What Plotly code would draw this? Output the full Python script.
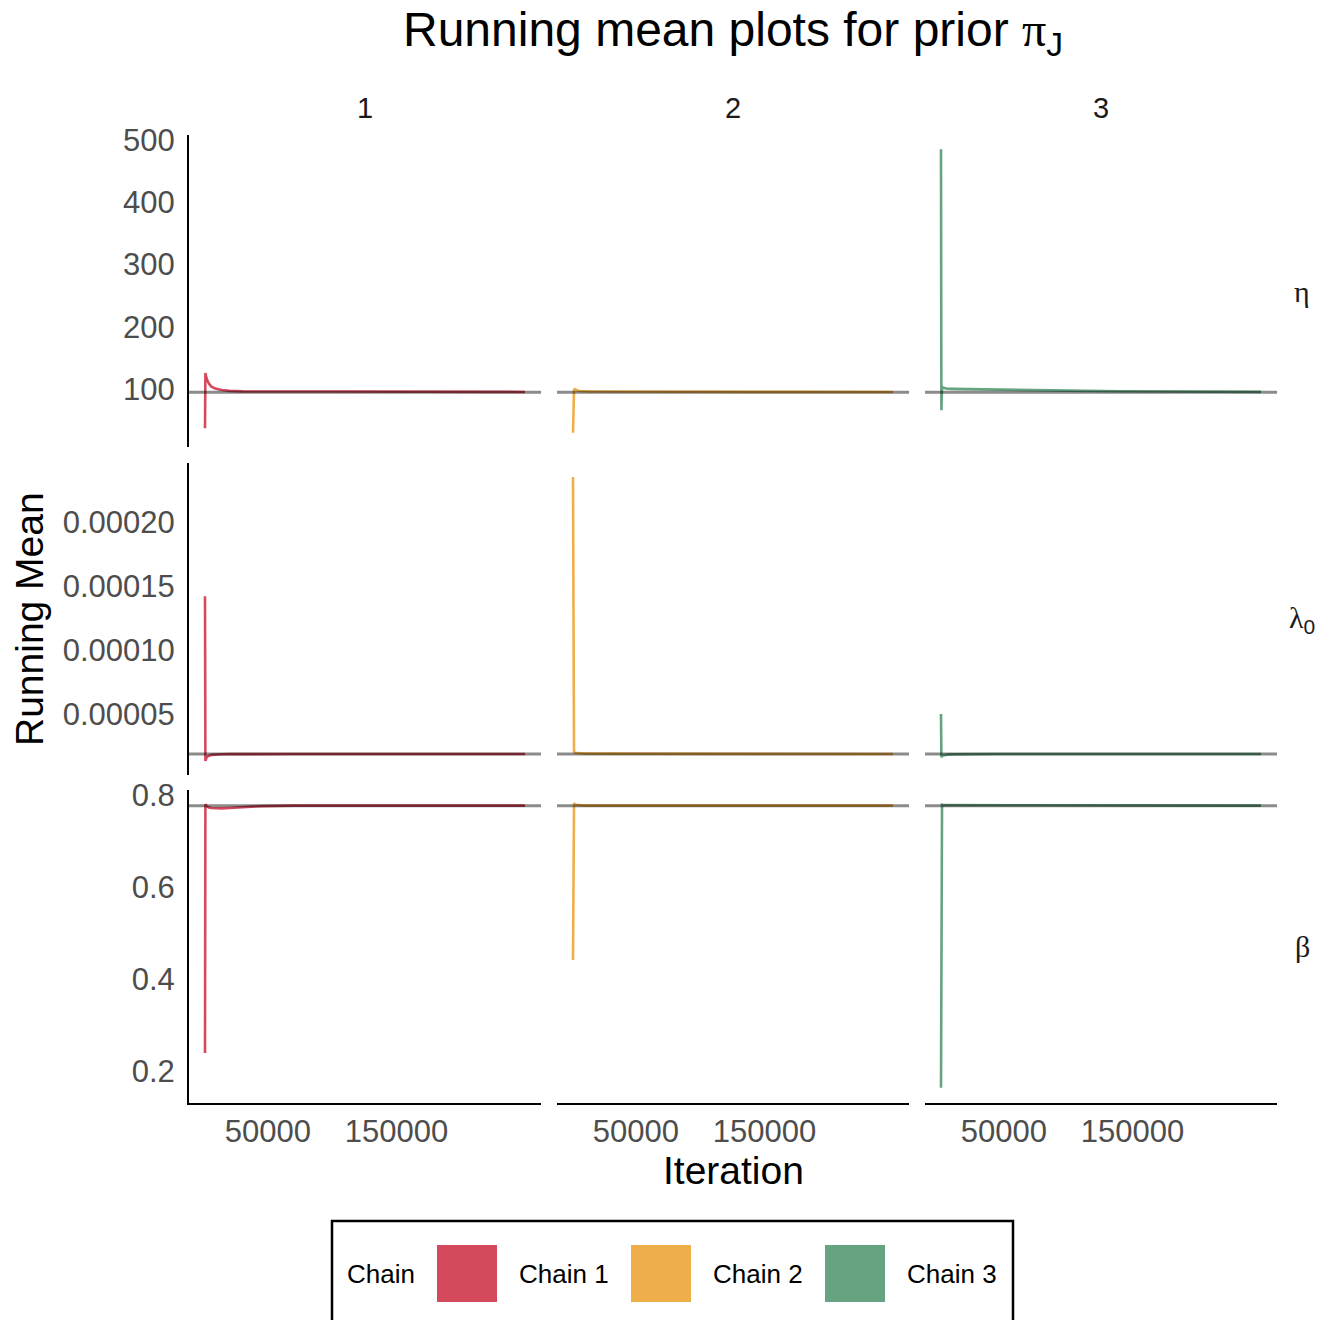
import plotly.graph_objects as go

# ---------------- data ----------------
CHAINS = ["Chain 1", "Chain 2", "Chain 3"]
COLORS = ["#D4495C", "#EEAE49", "#66A381"]
PARAMS = ["eta", "lambda0", "beta"]
ROW_LABELS = ["η", "λ<sub><span style='font-family:Liberation Sans'>0</span></sub>", "β"]
COL_LABELS = ["1", "2", "3"]

ITER = [1000, 1300, 1800, 2600, 4000, 6000, 9000, 14000, 20000, 30000,
        45000, 70000, 100000, 140000, 180000, 220000, 250000]

# eta running means
ETA_C1 = [37, 126, 121, 115, 109, 104, 101, 98.5, 97.2, 96.3, 95.8, 96.0, 96.1, 95.8, 95.6, 95.5, 95.4]
ETA_C2 = [30, 88, 99, 100, 98, 97, 96.5, 96.2, 96.0, 95.9, 95.8, 95.7, 95.6, 95.5, 95.5, 95.4, 95.4]
ETA_C3 = [485, 66, 104, 102, 101, 100.5, 100.3, 100.2, 100.0, 99.8, 99.5, 98.8, 97.6, 96.5, 96.0, 95.7, 95.5]
# lambda0 running means
LAM_C1 = [14.2e-5, 1.33e-5, 1.50e-5, 1.64e-5, 1.74e-5, 1.80e-5, 1.83e-5, 1.85e-5, 1.86e-5, 1.87e-5,
          1.87e-5, 1.87e-5, 1.87e-5, 1.87e-5, 1.87e-5, 1.87e-5, 1.87e-5]
LAM_C2 = [23.5e-5, 2.30e-5, 2.05e-5, 1.97e-5, 1.95e-5, 1.93e-5, 1.91e-5, 1.90e-5, 1.90e-5, 1.89e-5,
          1.88e-5, 1.88e-5, 1.87e-5, 1.87e-5, 1.87e-5, 1.87e-5, 1.87e-5]
LAM_C3 = [5.0e-5, 1.62e-5, 1.70e-5, 1.76e-5, 1.80e-5, 1.82e-5, 1.84e-5, 1.85e-5, 1.86e-5, 1.86e-5,
          1.87e-5, 1.87e-5, 1.87e-5, 1.87e-5, 1.87e-5, 1.87e-5, 1.87e-5]
# beta running means
BETA_C1 = [0.239, 0.780, 0.778, 0.775, 0.773, 0.772, 0.771, 0.771, 0.772, 0.774,
           0.776, 0.777, 0.777, 0.777, 0.777, 0.777, 0.777]
BETA_C2 = [0.441, 0.772, 0.782, 0.780, 0.778, 0.778, 0.777, 0.777, 0.777, 0.777,
           0.777, 0.777, 0.777, 0.777, 0.777, 0.777, 0.777]
BETA_C3 = [0.163, 0.770, 0.779, 0.778, 0.778, 0.777, 0.777, 0.777, 0.777, 0.777,
           0.777, 0.777, 0.777, 0.777, 0.777, 0.777, 0.777]

SERIES = [[ETA_C1, ETA_C2, ETA_C3], [LAM_C1, LAM_C2, LAM_C3], [BETA_C1, BETA_C2, BETA_C3]]
TRUE_VALUES = [95.0, 1.875e-5, 0.777]

X_TICKS = [50000, 150000]
X_TICK_TEXT = ["50000", "150000"]
Y_TICKS = [[100, 200, 300, 400, 500],
           [0.00005, 0.00010, 0.00015, 0.00020],
           [0.2, 0.4, 0.6, 0.8]]
Y_TICK_TEXT = [["100", "200", "300", "400", "500"],
               ["0.00005", "0.00010", "0.00015", "0.00020"],
               ["0.2", "0.4", "0.6", "0.8"]]
X_RANGE = [-11450, 262450]
Y_RANGES = [[7, 508], [0.0000023, 0.000246], [0.130, 0.811]]

# ---------------- layout geometry (pixels) ----------------
W, H = 1336, 1320
L, R, T, B = 189, 1277, 135, 1103
PW, PH = R - L, B - T
COL_X = [(189, 541), (557, 909), (925, 1277)]
ROW_Y = [(135, 447), (463, 775), (790, 1103)]


def fx(px):
    return (px - L) / PW


def fy(py):
    return (B - py) / PH


SANS = "Liberation Sans, Arial, sans-serif"
SERIF = "Liberation Serif, Times New Roman, serif"

fig = go.Figure()
layout = dict(
    width=W, height=H,
    margin=dict(l=L, r=W - R, t=T, b=H - B, pad=0),
    paper_bgcolor="white", plot_bgcolor="white",
    showlegend=False,
    font=dict(family=SANS, color="#000000"),
)
shapes = []
annotations = []

for r in range(3):
    for c in range(3):
        idx = r * 3 + c + 1
        xa = "xaxis" if idx == 1 else f"xaxis{idx}"
        ya = "yaxis" if idx == 1 else f"yaxis{idx}"
        xr = "x" if idx == 1 else f"x{idx}"
        yr = "y" if idx == 1 else f"y{idx}"
        layout[xa] = dict(
            domain=[fx(COL_X[c][0]), fx(COL_X[c][1])], anchor=yr,
            range=X_RANGE, showgrid=False, zeroline=False,
            showline=(r == 2), linecolor="black", linewidth=2,
            ticks="", tickvals=X_TICKS, ticktext=X_TICK_TEXT,
            showticklabels=(r == 2), ticklabelstandoff=0,
            tickfont=dict(size=31, color="#4D4D4D", family=SANS),
        )
        layout[ya] = dict(
            domain=[fy(ROW_Y[r][1]), fy(ROW_Y[r][0])], anchor=xr,
            range=Y_RANGES[r], showgrid=False, zeroline=False,
            showline=(c == 0), linecolor="black", linewidth=2,
            ticks="", tickvals=Y_TICKS[r], ticktext=Y_TICK_TEXT[r],
            showticklabels=(c == 0), ticklabelstandoff=6,
            tickfont=dict(size=31, color="#4D4D4D", family=SANS),
        )
        fig.add_trace(go.Scatter(
            x=ITER, y=SERIES[r][c], mode="lines", xaxis=xr, yaxis=yr,
            line=dict(color=COLORS[c], width=2.6), name=CHAINS[c],
        ))
        shapes.append(dict(
            type="line", xref=f"{xr} domain", yref=yr, x0=0, x1=1,
            y0=TRUE_VALUES[r], y1=TRUE_VALUES[r],
            line=dict(color="black", width=3), opacity=0.45, layer="above",
        ))

# strip labels (columns)
for c in range(3):
    annotations.append(dict(
        text=COL_LABELS[c], xref="paper", yref="paper",
        x=fx((COL_X[c][0] + COL_X[c][1]) / 2), y=fy(108),
        showarrow=False, xanchor="center", yanchor="middle",
        font=dict(size=29, color="#1A1A1A", family=SANS),
    ))
# strip labels (rows)
for r in range(3):
    annotations.append(dict(
        text=ROW_LABELS[r], xref="paper", yref="paper",
        x=fx(1302), y=fy((ROW_Y[r][0] + ROW_Y[r][1]) / 2),
        showarrow=False, xanchor="center", yanchor="middle",
        font=dict(size=30, color="#1A1A1A", family=SERIF),
    ))

# title
annotations.append(dict(
    text=("Running mean plots for prior <span style='font-family:Liberation Serif'>π</span>"
          "<sub><span style='font-family:Liberation Sans'>J</span></sub>"),
    xref="paper", yref="paper", x=fx(733), y=fy(33),
    showarrow=False, xanchor="center", yanchor="middle",
    font=dict(size=48, color="black", family=SANS),
))
# axis titles
annotations.append(dict(
    text="Iteration", xref="paper", yref="paper", x=fx(733), y=fy(1170),
    showarrow=False, xanchor="center", yanchor="middle",
    font=dict(size=39, color="black", family=SANS),
))
annotations.append(dict(
    text="Running Mean", xref="paper", yref="paper", x=fx(29), y=fy(619),
    showarrow=False, xanchor="center", yanchor="middle", textangle=-90,
    font=dict(size=39, color="black", family=SANS),
))

# legend (drawn manually)
shapes.append(dict(type="rect", xref="paper", yref="paper",
                   x0=fx(332), x1=fx(1013), y0=fy(1221), y1=fy(1330),
                   line=dict(color="black", width=2.5), fillcolor="rgba(0,0,0,0)"))
annotations.append(dict(
    text="Chain", xref="paper", yref="paper", x=fx(345), y=fy(1274),
    showarrow=False, xanchor="left", yanchor="middle",
    font=dict(size=26, color="black", family=SANS),
))
KEY_X = [437, 631, 825]
for i in range(3):
    shapes.append(dict(type="rect", xref="paper", yref="paper",
                       x0=fx(KEY_X[i]), x1=fx(KEY_X[i] + 60),
                       y0=fy(1302), y1=fy(1245),
                       line=dict(width=0), fillcolor=COLORS[i]))
    annotations.append(dict(
        text=CHAINS[i], xref="paper", yref="paper", x=fx(KEY_X[i] + 80), y=fy(1274),
        showarrow=False, xanchor="left", yanchor="middle",
        font=dict(size=26, color="black", family=SANS),
    ))

layout["shapes"] = shapes
layout["annotations"] = annotations
fig.update_layout(**layout)
fig.write_html("out.html")
